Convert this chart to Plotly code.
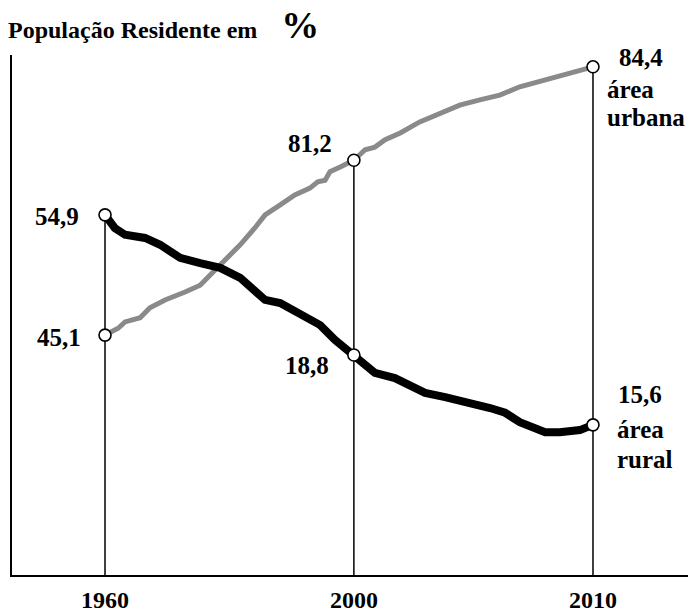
import plotly.graph_objects as go

# ---- data (schematic, hand-drawn style chart) ----
years = ["1960", "2000", "2010"]
year_pos = [0, 51, 100]                 # positions of the three years along the drawn track
urban_values = [45.1, 81.2, 84.4]       # % urban population (labels)
rural_values = [54.9, 18.8, 15.6]       # % rural population (labels)

# drawn levels of the marked points (schematic vertical scale, 0 = x axis)
urban_marker_level = [45.7, 79.0, 96.8]
rural_marker_level = [68.6, 41.9, 28.6]

# hand-drawn curves (position along track, drawn level)
urban_x = [0, 2.7, 4.1, 7.2, 9.2, 12.3, 16.4, 19.5, 21.5, 24.6, 27.7, 30.7, 32.8, 35.9,
           38.9, 42.0, 43.6, 45.1, 46.1, 48.2, 51.0, 53.3, 55.3, 57.4, 60.5, 64.5, 68.6,
           72.7, 76.8, 80.9, 85.0, 90.2, 95.3, 100]
urban_y = [45.7, 47.0, 48.2, 49.0, 50.9, 52.4, 53.9, 55.2, 57.1, 60.0, 62.9, 66.1, 68.6, 70.5,
           72.4, 73.7, 74.9, 75.2, 76.8, 77.7, 79.0, 81.0, 81.5, 82.9, 84.2, 86.3, 88.0,
           89.5, 90.5, 91.4, 93.0, 94.3, 95.6, 96.8]

rural_x = [0, 2.0, 4.1, 8.2, 11.3, 15.4, 19.5, 23.6, 27.7, 30.7, 32.8, 35.9, 40.0, 44.1,
           47.1, 51.0, 53.3, 55.3, 59.4, 62.5, 65.6, 69.7, 72.7, 75.8, 78.9, 82.0, 85.0,
           90.2, 93.2, 97.3, 100]
rural_y = [68.6, 66.1, 64.8, 64.2, 62.9, 60.4, 59.4, 58.5, 56.6, 54.3, 52.4, 51.8, 49.5, 47.6,
           44.8, 41.9, 40.0, 38.5, 37.5, 36.2, 34.7, 33.9, 33.3, 32.4, 31.8, 30.9, 29.1,
           27.2, 27.2, 27.6, 28.6]

title_text = "População Residente em"
urban_name = ["área", "urbana"]
rural_name = ["área", "rural"]

FONT = "Liberation Serif, Times New Roman, serif"


def fmt(v):
    return f"{v:.1f}".replace(".", ",")


fig = go.Figure()

# vertical guide lines from the axis to the upper marker of each year
for xp, u, r in zip(year_pos, urban_marker_level, rural_marker_level):
    fig.add_trace(go.Scatter(x=[xp, xp], y=[0, max(u, r)], mode="lines",
                             line=dict(color="black", width=1.5),
                             hoverinfo="skip", showlegend=False))

fig.add_trace(go.Scatter(x=urban_x, y=urban_y, mode="lines",
                         line=dict(color="#8a8a8a", width=5),
                         showlegend=False))
fig.add_trace(go.Scatter(x=rural_x, y=rural_y, mode="lines",
                         line=dict(color="black", width=8),
                         showlegend=False))

marker_style = dict(symbol="circle", size=12, color="white",
                    line=dict(color="black", width=1.6))
fig.add_trace(go.Scatter(x=year_pos, y=urban_marker_level, mode="markers",
                         marker=marker_style, showlegend=False))
fig.add_trace(go.Scatter(x=year_pos, y=rural_marker_level, mode="markers",
                         marker=marker_style, showlegend=False))

ann = []
lab_font = dict(family=FONT, size=25, color="black")


def add_label(text, x, y, anchor, xs, ys):
    ann.append(dict(x=x, y=y, xref="x", yref="y", text=f"<b>{text}</b>",
                    showarrow=False, xanchor=anchor, yanchor="middle",
                    xshift=xs, yshift=ys, font=lab_font))


# 1960
add_label(fmt(rural_values[0]), year_pos[0], rural_marker_level[0], "right", -24, -2)
add_label(fmt(urban_values[0]), year_pos[0], urban_marker_level[0], "right", -22, -2)
# 2000
add_label(fmt(urban_values[1]), year_pos[1], urban_marker_level[1], "right", -20, 17)
add_label(fmt(rural_values[1]), year_pos[1], rural_marker_level[1], "right", -23, -10)
# 2010
add_label(fmt(urban_values[2]), year_pos[2], urban_marker_level[2], "left", 24, 9)
add_label(urban_name[0], year_pos[2], urban_marker_level[2], "left", 12, -23)
add_label(urban_name[1], year_pos[2], urban_marker_level[2], "left", 12, -51)
add_label(fmt(rural_values[2]), year_pos[2], rural_marker_level[2], "left", 23, 30)
add_label(rural_name[0], year_pos[2], rural_marker_level[2], "left", 22, -5)
add_label(rural_name[1], year_pos[2], rural_marker_level[2], "left", 22, -35)

# title
ann.append(dict(x=0, y=1, xref="paper", yref="paper", xanchor="left", yanchor="middle",
                xshift=-6, yshift=30, showarrow=False,
                text=f"<b>{title_text}&nbsp;&nbsp;&nbsp; <span style='font-size:38px'>%</span></b>",
                font=dict(family=FONT, size=24, color="black")))

fig.update_layout(
    width=692, height=612,
    margin=dict(l=12, r=4, t=55, b=37, autoexpand=False),
    paper_bgcolor="white", plot_bgcolor="white",
    annotations=ann,
    xaxis=dict(range=[-19.06, 119.47], showgrid=False, zeroline=False,
               showline=True, linecolor="black", linewidth=2,
               tickmode="array", tickvals=year_pos,
               ticktext=[f"<b>{y}</b>" for y in years], ticks="",
               ticklabelstandoff=2, automargin=False,
               tickfont=dict(family=FONT, size=24, color="black")),
    yaxis=dict(range=[0, 99.05], showgrid=False, zeroline=False,
               showline=True, linecolor="black", linewidth=2,
               showticklabels=False, ticks="", automargin=False),
)

fig.write_html("out.html", config={"displayModeBar": False},
               post_script="document.body.style.margin='0';")
